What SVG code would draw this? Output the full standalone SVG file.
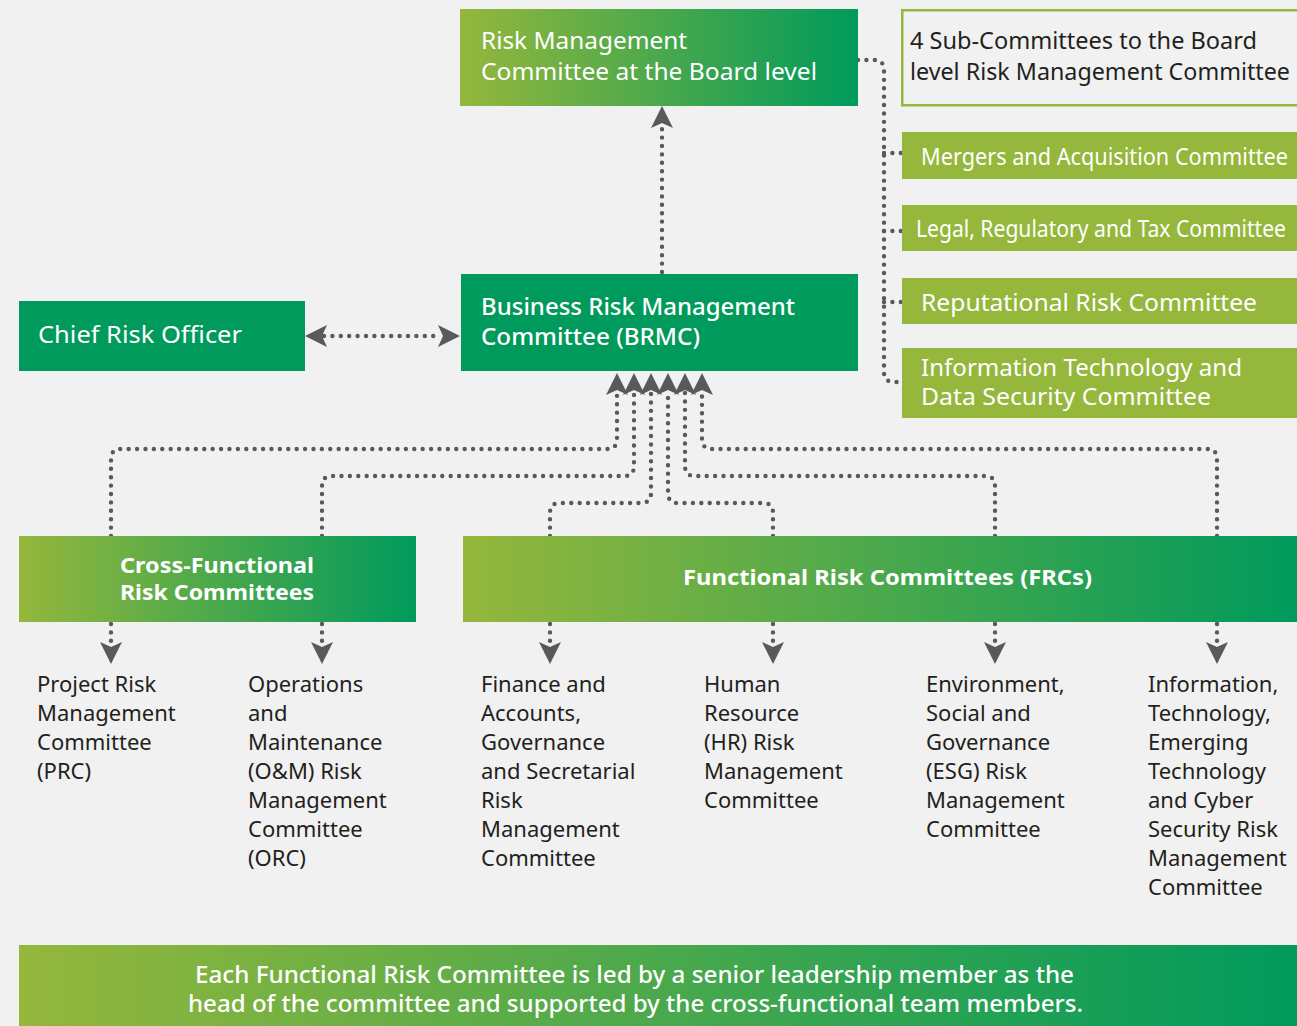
<svg xmlns="http://www.w3.org/2000/svg" width="1297" height="1026" viewBox="0 0 1297 1026">
<style>
.bg{fill:#f1f1f1}
.grad{fill:url(#g)}
.solid{fill:#009a5c}
.olive{fill:#95b73c}
.outline{fill:none;stroke:#95b73c;stroke-width:2.5}
.w{fill:#ffffff;font-family:"Noto Sans","Open Sans",sans-serif;font-size:23px}
.wb{fill:#ffffff;font-family:"Noto Sans","Open Sans",sans-serif;font-size:21px;font-weight:700}
.wm{fill:#ffffff;font-family:"Noto Sans","Open Sans",sans-serif;font-size:23px;font-weight:500}
.d{fill:#231f20;font-family:"Noto Sans","Open Sans",sans-serif;font-size:22px}
.dl{fill:#231f20;font-family:"Noto Sans","Open Sans",sans-serif;font-size:23px}
.dot{fill:none;stroke:#58595b;stroke-width:4.4;stroke-linecap:round;stroke-dasharray:0 8.4}
.dota{fill:none;stroke:#58595b;stroke-width:4.4;stroke-linecap:round;stroke-dasharray:0 8.4;marker-end:url(#ah)}
</style>
<defs>
<linearGradient id="g" x1="0" y1="0" x2="1" y2="0">
<stop offset="0" stop-color="#95b73c"/>
<stop offset="1" stop-color="#009a5c"/>
</linearGradient>
<marker id="ah" viewBox="0 0 22 22" markerWidth="22" markerHeight="22" refX="3" refY="11" orient="auto-start-reverse" markerUnits="userSpaceOnUse">
<path d="M0,0 L22,11 L0,22 L5,11 Z" fill="#58595b"/>
</marker>
</defs>
<rect class="bg" x="0" y="0" width="1297" height="1026"/>

<g id="connectors">
<path class="dota" d="M662,272 V125"/>
<path class="dot" d="M858,60 H874 Q884,60 884,70 V372 Q884,382 894,382 H902"/>
<path class="dot" d="M884,153 H902"/>
<path class="dot" d="M884,231 H902"/>
<path class="dot" d="M884,302 H902"/>
<path class="dota" style="marker-start:url(#ah)" d="M324,336 H441"/>
<path class="dota" d="M111,536 V459 Q111,449 121,449 H607 Q617,449 617,439 V392"/>
<path class="dota" d="M322,536 V486 Q322,476 332,476 H624 Q634,476 634,466 V392"/>
<path class="dota" d="M550,536 V513 Q550,503 560,503 H641 Q651,503 651,493 V392"/>
<path class="dota" d="M773,536 V513 Q773,503 763,503 H678 Q668,503 668,493 V392"/>
<path class="dota" d="M995,536 V486 Q995,476 985,476 H695 Q685,476 685,466 V392"/>
<path class="dota" d="M1217,536 V459 Q1217,449 1207,449 H712 Q702,449 702,439 V392"/>
<path class="dota" d="M111,624 V645"/>
<path class="dota" d="M322,624 V645"/>
<path class="dota" d="M550,624 V645"/>
<path class="dota" d="M773,624 V645"/>
<path class="dota" d="M995,624 V645"/>
<path class="dota" d="M1217,624 V645"/>
</g>

<g id="board-rmc">
<rect class="grad" x="460" y="9" width="398" height="97"/>
<text class="w" x="481" y="49" textLength="206" lengthAdjust="spacingAndGlyphs">Risk Management</text>
<text class="w" x="481" y="80" textLength="336" lengthAdjust="spacingAndGlyphs">Committee at the Board level</text>
</g>

<g id="sub-committees-title">
<rect class="outline" x="902.25" y="10.25" width="400" height="95"/>
<text class="dl" x="910" y="49" textLength="347" lengthAdjust="spacingAndGlyphs">4 Sub-Committees to the Board</text>
<text class="dl" x="910" y="80" textLength="380" lengthAdjust="spacingAndGlyphs">level Risk Management Committee</text>
</g>

<g id="mergers">
<rect class="olive" x="902" y="132" width="395" height="47"/>
<text class="w" x="921" y="165" textLength="367" lengthAdjust="spacingAndGlyphs">Mergers and Acquisition Committee</text>
</g>
<g id="legal">
<rect class="olive" x="902" y="205" width="395" height="46"/>
<text class="w" x="916" y="237" textLength="370" lengthAdjust="spacingAndGlyphs">Legal, Regulatory and Tax Committee</text>
</g>
<g id="reputational">
<rect class="olive" x="902" y="278" width="395" height="46"/>
<text class="w" x="921" y="311" textLength="336" lengthAdjust="spacingAndGlyphs">Reputational Risk Committee</text>
</g>
<g id="it-data">
<rect class="olive" x="902" y="348" width="395" height="70"/>
<text class="w" x="921" y="376" textLength="321" lengthAdjust="spacingAndGlyphs">Information Technology and</text>
<text class="w" x="921" y="405" textLength="290" lengthAdjust="spacingAndGlyphs">Data Security Committee</text>
</g>

<g id="cro">
<rect class="solid" x="19" y="301" width="286" height="70"/>
<text class="w" x="38" y="343" textLength="204" lengthAdjust="spacingAndGlyphs">Chief Risk Officer</text>
</g>

<g id="brmc">
<rect class="solid" x="461" y="274" width="397" height="97"/>
<text class="wm" x="481" y="315" textLength="314" lengthAdjust="spacingAndGlyphs">Business Risk Management</text>
<text class="wm" x="481" y="345" textLength="219" lengthAdjust="spacingAndGlyphs">Committee (BRMC)</text>
</g>

<g id="cross-functional">
<rect class="grad" x="19" y="536" width="397" height="86"/>
<text class="wb" x="120" y="573" textLength="194" lengthAdjust="spacingAndGlyphs">Cross-Functional</text>
<text class="wb" x="120" y="600" textLength="194" lengthAdjust="spacingAndGlyphs">Risk Committees</text>
</g>

<g id="frc">
<rect class="grad" x="463" y="536" width="834" height="86"/>
<text class="wb" x="683" y="585" textLength="409" lengthAdjust="spacingAndGlyphs">Functional Risk Committees (FRCs)</text>
</g>

<g id="prc">
<text class="d" x="37" y="692">Project Risk</text>
<text class="d" x="37" y="721">Management</text>
<text class="d" x="37" y="750">Committee</text>
<text class="d" x="37" y="779">(PRC)</text>
</g>
<g id="orc">
<text class="d" x="248" y="692">Operations</text>
<text class="d" x="248" y="721">and</text>
<text class="d" x="248" y="750">Maintenance</text>
<text class="d" x="248" y="779">(O&amp;M) Risk</text>
<text class="d" x="248" y="808">Management</text>
<text class="d" x="248" y="837">Committee</text>
<text class="d" x="248" y="866">(ORC)</text>
</g>
<g id="finance">
<text class="d" x="481" y="692">Finance and</text>
<text class="d" x="481" y="721">Accounts,</text>
<text class="d" x="481" y="750">Governance</text>
<text class="d" x="481" y="779">and Secretarial</text>
<text class="d" x="481" y="808">Risk</text>
<text class="d" x="481" y="837">Management</text>
<text class="d" x="481" y="866">Committee</text>
</g>
<g id="hr">
<text class="d" x="704" y="692">Human</text>
<text class="d" x="704" y="721">Resource</text>
<text class="d" x="704" y="750">(HR) Risk</text>
<text class="d" x="704" y="779">Management</text>
<text class="d" x="704" y="808">Committee</text>
</g>
<g id="esg">
<text class="d" x="926" y="692">Environment,</text>
<text class="d" x="926" y="721">Social and</text>
<text class="d" x="926" y="750">Governance</text>
<text class="d" x="926" y="779">(ESG) Risk</text>
<text class="d" x="926" y="808">Management</text>
<text class="d" x="926" y="837">Committee</text>
</g>
<g id="itcyber">
<text class="d" x="1148" y="692">Information,</text>
<text class="d" x="1148" y="721">Technology,</text>
<text class="d" x="1148" y="750">Emerging</text>
<text class="d" x="1148" y="779">Technology</text>
<text class="d" x="1148" y="808">and Cyber</text>
<text class="d" x="1148" y="837">Security Risk</text>
<text class="d" x="1148" y="866">Management</text>
<text class="d" x="1148" y="895">Committee</text>
</g>

<g id="footer">
<rect class="grad" x="19" y="945" width="1278" height="81"/>
<text class="wm" x="195" y="983" textLength="879" lengthAdjust="spacingAndGlyphs">Each Functional Risk Committee is led by a senior leadership member as the</text>
<text class="wm" x="188" y="1012" textLength="895" lengthAdjust="spacingAndGlyphs">head of the committee and supported by the cross-functional team members.</text>
</g>
</svg>
